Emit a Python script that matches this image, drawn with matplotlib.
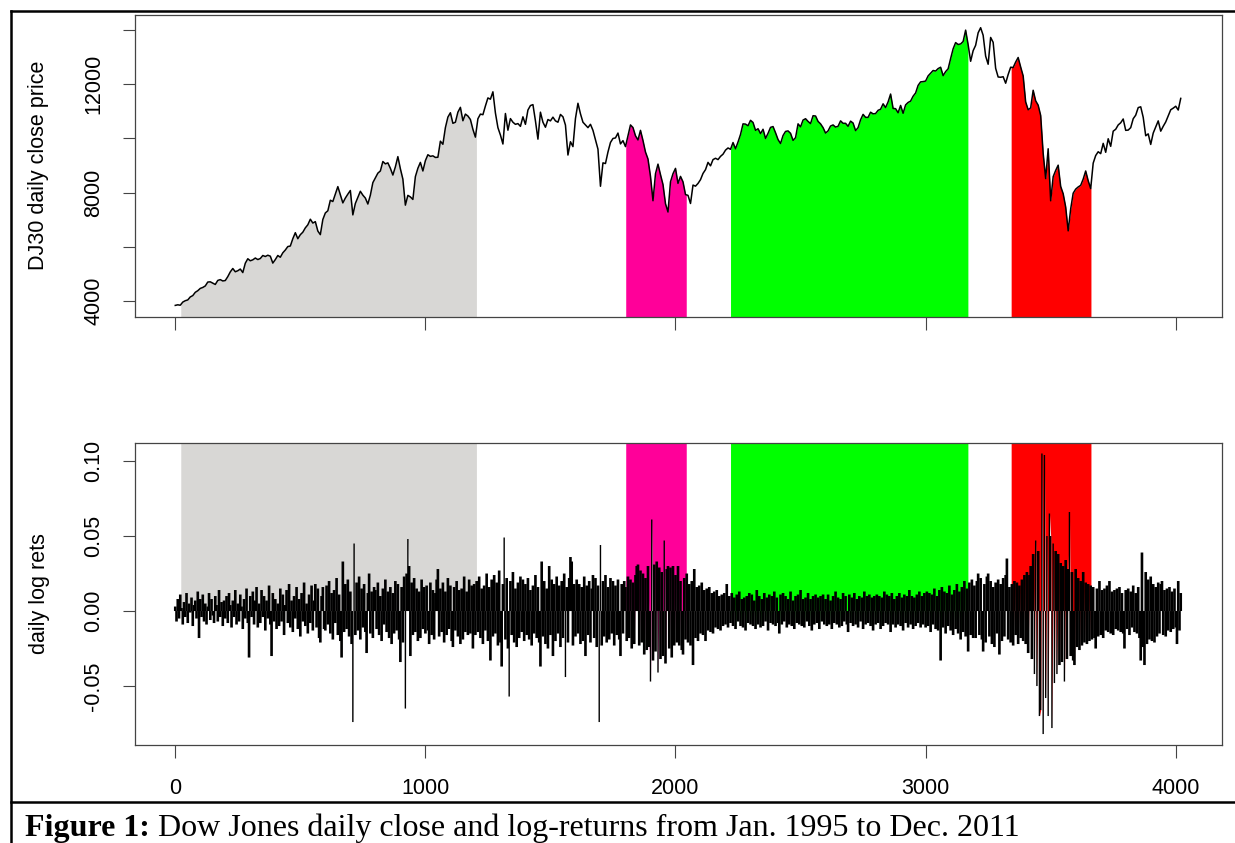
import numpy as np
import matplotlib
matplotlib.use("Agg")
import matplotlib.pyplot as plt
from matplotlib.lines import Line2D

plt.rcParams['font.family'] = ['Liberation Sans', 'DejaVu Sans']

# ---------------- data ----------------
# DJ30 close, sampled every 10 trading days, per calendar year
price_1995 = [3838,3860,3844,3960,4011,4040,4150,4200,4321,4380,4465,4500,4556,4700,4708,4660,4611,4760,4789,4740,4756,4900,5075,5200,5080,5117]
price_1996 = [5180,5050,5395,5560,5485,5520,5587,5530,5569,5680,5643,5690,5655,5400,5529,5680,5616,5780,5882,6010,6029,6300,6522,6300,6448]
price_1997 = [6540,6700,6813,7020,6878,6930,6584,6450,7009,7250,7331,7720,7673,7950,8223,7920,7622,7800,7945,8080,7180,7600,7823,8050,7908]
price_1998 = [7800,7580,7907,8370,8546,8720,8800,9150,9063,9100,8900,8650,8952,9330,8883,8500,7539,7900,7843,7750,8592,8900,9117,8800,9181]
price_1999 = [9400,9340,9359,9300,9307,9900,9786,10400,10789,10950,10560,10600,10971,11150,10655,10900,10829,10700,10337,10050,10729,10900,10878,11200,11497]
price_2000 = [11450,11723,10941,10400,10128,9796,10922,10305,10734,10600,10522,10550,10448,10800,10522,11050,11215,11250,10651,9975,10971,10600,10415,10700,10650,10787]
price_2001 = [10650,10600,10887,10800,10495,9389,9879,9700,10735,11300,10912,10600,10502,10400,10523,10300,9950,9605,8236,9100,9075,9500,9852,10000,10021]
price_2002 = [10200,9800,9920,9700,10106,10500,10404,10100,9946,10300,9925,9500,9243,8600,7702,8700,9053,8664,8300,7592,7286,8400,8700,8896,8342]
price_2003 = [8600,8400,7930,7900,7600,8280,8240,8340,8480,8710,8850,9117,8990,9220,9270,9220,9340,9420,9570,9650,9600,9850,9620,9870,10150]
price_2004 = [10540,10530,10470,10670,10590,10300,10360,10180,10340,10000,10190,10410,10440,10210,9960,9815,10110,10260,10280,10190,9930,10030,10540,10430,10680]
price_2005 = [10730,10630,10550,10840,10830,10630,10540,10400,10200,10280,10460,10500,10420,10450,10650,10560,10560,10450,10640,10570,10290,10400,10690,10890,10780,10780]
price_2006 = [10970,10910,10920,11040,11080,11280,11140,11350,11640,11110,11100,10950,11220,10930,11240,11330,11380,11560,11680,11960,12090,12100,12120,12310,12410]
price_2007 = [12510,12490,12580,12630,12320,12470,12570,12950,13310,13540,13470,13490,13580,14000,13460,12850,13240,13440,13900,14090,13810,13040,12740,13730,13550]
price_2008 = [12590,12270,12260,12280,12040,12360,12630,12620,12820,12990,12640,12310,11350,11060,11130,11780,11390,11230,10850,9450,8520,9620,7700,8590,8820]
price_2009 = [9015,8230,7960,7470,6590,7400,7980,8130,8210,8270,8500,8800,8440,8150,9090,9370,9510,9440,9820,9490,9990,9710,10270,10340,10500]
price_2010 = [10580,10720,10300,10310,10400,10730,10860,11140,11170,10780,10100,10170,9780,10200,10420,10650,10270,10450,10610,10830,11060,11120,11190,11050,11480]

# daily log returns (units of 0.001), one value per 5 trading days
ret_milli = [
 3,-7,8,-5,11,2,-9,6,-4,12,-8,5,-1,9,-10,4,7,-5,13,-18,8,-4,11,-7,5,-9,3,12,-6,8,-3,-8,10,4,-7,14,-4,6,-10,7,
 -5,10,-8,12,4,-11,7,-4,14,-9,5,-7,11,3,-12,8,-5,15,-8,-31,10,-4,13,-9,7,16,-11,5,-8,14,-4,10,-13,7,-5,17,-9,-30,12,-7,
 8,-12,5,-10,15,-7,11,-16,4,14,-8,18,-11,7,-14,10,-5,16,-12,8,-17,12,-7,19,-10,5,-15,11,-8,17,-13,7,18,-11,15,-18,-21,10,16,-12,
 -13,17,-9,20,-15,12,-19,14,-8,22,-16,11,-20,-31,33,-14,18,-12,21,-17,13,-22,-74,45,-16,19,-13,23,-19,15,-11,18,-14,-28,12,25,-15,13,-18,16,
 14,-12,19,-16,10,-20,15,-9,21,-14,13,-18,16,-22,12,-15,20,-13,18,-19,-34,16,-21,23,-65,25,48,30,-30,19,-16,22,-14,15,-20,13,-18,21,-12,16,
 -15,17,-13,-22,19,-16,14,-19,12,21,28,-17,15,-14,19,-21,13,-16,22,-12,17,-20,-24,16,-13,20,-17,14,-22,15,-19,23,-14,13,-16,21,-15,17,-25,18,
 -16,20,-14,23,-18,15,-22,17,-13,25,-20,16,-33,21,-17,24,-15,19,-23,27,-21,-37,18,49,-19,22,-25,-57,20,-16,26,-21,15,-24,19,-18,23,-14,21,-20,
 18,-16,22,-19,14,-23,17,-15,24,-18,16,-21,-37,33,-17,20,-22,15,-25,30,-16,21,-30,18,-20,23,-15,17,-24,20,-18,25,-44,16,-21,22,36,33,-23,18,
 -17,21,-15,18,-22,16,-20,23,-30,17,-16,20,-21,15,24,-18,22,-24,17,-74,44,-23,20,-17,24,-21,16,-19,22,-15,20,-23,17,-16,21,-19,-30,18,-15,20,
 16,-20,23,-18,21,-25,19,-22,24,30,31,-23,27,-21,25,-29,22,-26,30,-24,-47,61,-33,31,-27,33,-41,29,-32,26,-30,47,-35,28,30,-25,29,-31,30,-23,
 24,-21,30,-23,20,-26,-29,22,-19,25,-21,18,-23,20,-36,28,-18,16,-20,17,-15,19,-16,14,-20,15,-13,16,-14,12,-15,13,-11,14,-12,10,-13,11,-10,12,
 -9,18,-11,10,-8,12,-10,9,-12,11,-7,13,-10,8,-11,9,-13,10,-8,12,-9,11,-10,7,-12,14,-9,10,-11,8,-10,12,-7,9,-13,11,-8,10,-9,13,
 -10,9,-8,-15,11,-9,12,-7,10,-11,8,-9,13,-10,7,-12,10,-8,11,-9,14,-10,8,-11,9,-7,12,-10,8,-13,10,-9,11,-8,9,-12,10,-7,11,-9,
 8,-10,11,-9,7,-12,10,-8,13,-9,9,-11,8,-10,12,-7,10,-9,-14,11,-8,9,-10,12,-9,8,-11,10,-7,9,-12,13,-9,10,-8,11,-10,9,-13,10,
 -9,11,-8,10,-12,9,-10,13,-8,11,-9,10,-14,12,-9,8,-11,10,-9,12,-10,9,-13,11,-8,10,-11,14,-9,10,-12,9,-10,11,-8,13,-11,10,-9,12,
 -11,13,-10,12,-14,11,-9,15,-12,10,-13,14,-33,16,-11,13,-15,12,-10,17,-13,11,-16,14,-12,18,-15,13,-19,16,-14,20,-17,15,-27,19,-16,21,-18,17,
 -18,20,25,-16,22,-19,-27,18,-21,23,25,-17,20,-22,16,-24,19,-15,21,-29,18,-20,22,-17,24,35,-19,16,-21,18,-23,20,-16,19,-22,17,-18,21,-20,24,
 -22,26,-28,24,30,-32,38,-42,47,-50,40,-70,-66,105,-82,104,-58,50,-70,65,50,-78,45,-48,40,-42,38,-36,32,-34,30,-47,34,-32,28,66,-30,26,-33,-36,
 28,-24,22,-26,20,-23,26,-21,19,-22,18,-20,17,-19,16,-18,-25,15,-17,20,-16,14,-18,15,-13,17,-14,20,-15,13,-16,14,-12,15,-13,16,-14,12,-15,-25,
 14,-12,15,-16,13,-11,17,-14,12,-15,16,-18,-33,39,-24,-36,26,-22,21,-19,23,-20,18,-21,16,-17,19,-15,18,20,-16,14,-17,15,-13,16,-14,13,-12,15,
 -11,-22,20,-13,12,
]

# highlighted periods (trading-day index)
region_start = [22, 1801, 2220, 3342]
region_end = [1204, 2043, 3169, 3661]
region_colors = ['#d8d7d5', '#ff0099', '#00ff00', '#ff0000']

x_ticks = [0, 1000, 2000, 3000, 4000]
price_ticks = [4000, 6000, 8000, 10000, 12000, 14000]
price_ticklabels = ['4000', '', '8000', '', '12000', '']
ret_ticks = [-0.05, 0.0, 0.05, 0.10]
ret_ticklabels = ['-0.05', '0.00', '0.05', '0.10']

caption_bold = 'Figure 1:'
caption_rest = 'Dow Jones daily close and log-returns from Jan. 1995 to Dec. 2011'

# ---------------- build ----------------
price = np.array(price_1995 + price_1996 + price_1997 + price_1998 + price_1999 + price_2000 +
                 price_2001 + price_2002 + price_2003 + price_2004 + price_2005 + price_2006 +
                 price_2007 + price_2008 + price_2009 + price_2010, dtype=float)
price_x = np.arange(len(price)) * 10
ret = np.array(ret_milli, dtype=float) / 1000.0
ret_x = np.arange(len(ret)) * 5

W, H = 1235, 843
fig = plt.figure(figsize=(W / 100, H / 100), dpi=100)


def px_axes(left, top, right, bottom):
    return fig.add_axes([left / W, 1 - bottom / H, (right - left) / W, (bottom - top) / H])


ax1 = px_axes(135, 14.5, 1222, 316.5)
ax2 = px_axes(135, 443.3, 1222, 745)

xlim = (-161, 4185)
ylim1 = (3428, 14577)
ylim2 = (-0.0893, 0.1118)

# top panel
for s, e, c in zip(region_start, region_end, region_colors):
    xs = np.concatenate(([s], price_x[(price_x > s) & (price_x < e)], [e]))
    ys = np.interp(xs, price_x, price)
    ax1.fill_between(xs, ys, ylim1[0], color=c, lw=0, zorder=1)
ax1.plot(price_x, price, color='black', lw=1.1, zorder=3)

# bottom panel
for s, e, c in zip(region_start, region_end, region_colors):
    xs = np.concatenate(([s], ret_x[(ret_x > s) & (ret_x < e)], [e]))
    ys = np.interp(xs, ret_x, ret)
    ax2.fill_between(xs, ys, ylim2[1], color=c, lw=0, zorder=1)
# dense body drawn a bit wider, isolated large moves thin (as the daily spikes look)
line_w = np.where(np.abs(ret) > 0.04, 1.0, 1.9)
vl = ax2.vlines(ret_x, 0, ret, color='black', linewidths=line_w, zorder=3)
vl.set_snap(False)

for ax, yl in ((ax1, ylim1), (ax2, ylim2)):
    ax.set_xlim(*xlim)
    ax.set_ylim(*yl)
    ax.set_xticks(x_ticks)
    for sp in ax.spines.values():
        sp.set_color('#444444')
        sp.set_linewidth(0.9)
    ax.tick_params(direction='out', length=9, width=0.8, color='#444444',
                   labelsize=15.5, top=False, right=False)
    ax.tick_params(axis='y', labelrotation=90, pad=13)
    ax.tick_params(axis='x', pad=15)

ax1.set_xticklabels([])
ax1.set_yticks(price_ticks)
ax1.set_yticklabels(price_ticklabels)
ax2.set_xticklabels([str(t) for t in x_ticks])
ax2.set_yticks(ret_ticks)
ax2.set_yticklabels(ret_ticklabels)
for ax in (ax1, ax2):
    for lbl in ax.get_yticklabels():
        lbl.set_va('center')

fig.text(39 / W, 1 - 165.5 / H, 'DJ30 daily close price', rotation=90,
         ha='center', va='center', fontsize=15.5)
fig.text(39 / W, 1 - 594 / H, 'daily log rets', rotation=90,
         ha='center', va='center', fontsize=15.5)

# page frame lines
lw_frame = 1.8
for (x0, y0, x1, y1) in [(11, 11, W, 11), (11, 11, 11, H), (11, 802, W, 802)]:
    fig.add_artist(Line2D([x0 / W, x1 / W], [1 - y0 / H, 1 - y1 / H],
                          transform=fig.transFigure, color='black', lw=lw_frame))

# caption
t1 = fig.text(25 / W, 1 - 836 / H, caption_bold, family='Liberation Serif',
              weight='bold', fontsize=23, va='baseline', ha='left')
fig.canvas.draw()
bb = t1.get_window_extent(renderer=fig.canvas.get_renderer())
fig.text((bb.x1 + 8) / W, 1 - 836 / H, caption_rest, family='Liberation Serif',
         fontsize=23, va='baseline', ha='left')

fig.savefig('out.png', dpi=100)
